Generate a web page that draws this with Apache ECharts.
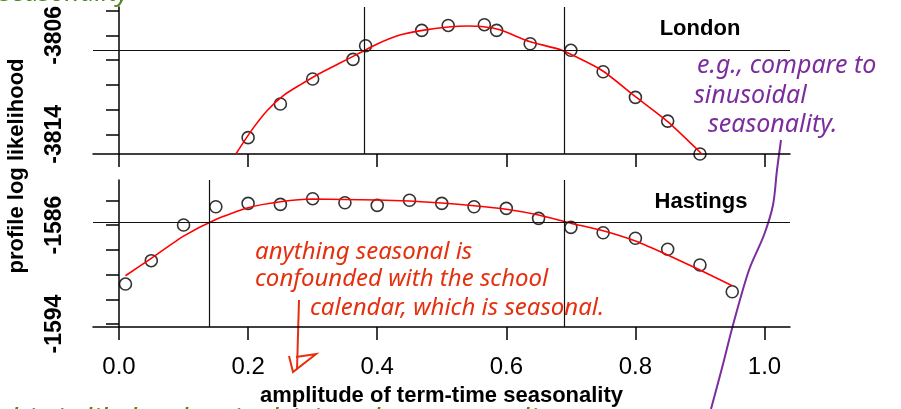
<!DOCTYPE html>
<html>
<head>
<meta charset="utf-8">
<script src="https://cdn.jsdelivr.net/npm/echarts@6/dist/echarts.min.js"></script>
<style>
  html, body { margin: 0; padding: 0; background: #fff; }
  #chart { width: 901px; height: 409px; }
</style>
</head>
<body>
<div id="chart"></div>
<script>
// x axis ticks (amplitude)
var xTicks = [0, 0.2, 0.4, 0.6, 0.8, 1.0];

// London profile
var londonAmp = [0.2, 0.25, 0.3, 0.3625, 0.382, 0.469, 0.51, 0.566, 0.585, 0.637, 0.70, 0.75, 0.80, 0.85, 0.90];
var londonLik = [-3814.27, -3811.55, -3809.53, -3807.94, -3806.84, -3805.60, -3805.20, -3805.14, -3805.60, -3806.68, -3807.21, -3808.94, -3811.01, -3812.93, -3815.59];
var londonFitAmp = [0.181, 0.205, 0.23, 0.255, 0.28, 0.31, 0.34, 0.37, 0.40, 0.435, 0.47, 0.51, 0.54, 0.565, 0.59, 0.637, 0.685, 0.749, 0.80, 0.85, 0.903];
var londonFit = [-3815.59, -3813.7, -3812.05, -3810.85, -3810.02, -3809.1, -3808.3, -3807.5, -3806.7, -3805.98, -3805.6, -3805.33, -3805.25, -3805.3, -3805.55, -3806.52, -3807.19, -3808.86, -3810.96, -3812.98, -3815.59];
var londonCut = -3807.21;
var londonCI = [0.381, 0.685];
var londonTicks = [-3814, -3812, -3810, -3808, -3806, -3804];
var londonLabels = [-3814, -3806];

// Hastings profile
var hastAmp = [0.01, 0.05, 0.1, 0.15, 0.2, 0.25, 0.3, 0.35, 0.4, 0.45, 0.5, 0.55, 0.6, 0.65, 0.7, 0.75, 0.8, 0.85, 0.9, 0.95];
var hastLik = [-1590.77, -1588.88, -1586.0, -1584.52, -1584.25, -1584.33, -1583.87, -1584.20, -1584.41, -1584.0, -1584.25, -1584.52, -1584.65, -1585.46, -1586.19, -1586.62, -1587.07, -1587.96, -1589.23, -1591.39];
var hastFitAmp = [0.01, 0.05, 0.1, 0.15, 0.2, 0.25, 0.3, 0.35, 0.4, 0.45, 0.5, 0.55, 0.6, 0.65, 0.7, 0.75, 0.8, 0.85, 0.9, 0.95];
var hastFit = [-1590.10, -1588.69, -1586.9, -1585.55, -1584.6, -1584.12, -1583.9, -1583.93, -1583.98, -1584.06, -1584.22, -1584.44, -1584.73, -1585.19, -1585.85, -1586.46, -1587.29, -1588.42, -1589.64, -1590.90];
var hastCut = -1585.78;
var hastCI = [0.1435, 0.6935];
var hastTicks = [-1594, -1592, -1590, -1588, -1586, -1584];
var hastLabels = [-1594, -1586];

function pairs(xs, ys) {
    return xs.map(function(x, i) { return [x, ys[i]]; });
}

var myChart = echarts.init(document.getElementById('chart'), null, { renderer: 'canvas' });

var font = 'Liberation Sans, Arial, sans-serif';
var hand = 'Noto Sans, sans-serif';

function xAxisFor(idx, withLabels) {
    return {
        type: 'value',
        gridIndex: idx,
        min: -0.0403,
        max: 1.0395,
        splitLine: { show: false },
        axisLine: { show: true, onZero: false, lineStyle: { color: '#000', width: 1.5 } },
        axisTick: { show: true, inside: false, length: 13, customValues: xTicks, lineStyle: { color: '#000', width: 1.5 } },
        axisLabel: {
            show: withLabels,
            customValues: xTicks,
            margin: 28,
            fontFamily: font,
            fontSize: 24,
            color: '#000',
            formatter: function(v) { return v.toFixed(1); }
        },
        name: withLabels ? 'amplitude of term-time seasonality' : '',
        nameLocation: 'middle',
        nameGap: 58,
        nameTextStyle: { fontFamily: font, fontWeight: 'bold', fontSize: 22, color: '#000' }
    };
}

function yAxisFor(idx, min, max, ticks, labels) {
    return {
        type: 'value',
        gridIndex: idx,
        min: min,
        max: max,
        splitLine: { show: false },
        axisLine: { show: true, lineStyle: { color: '#000', width: 1.5 } },
        axisTick: { show: true, length: 13, customValues: ticks, lineStyle: { color: '#000', width: 1.5 } },
        axisLabel: {
            customValues: labels,
            rotate: 90,
            margin: 27,
            fontFamily: font,
            fontWeight: 'bold',
            fontSize: 23,
            color: '#000',
            formatter: function(v) { return String(v); }
        }
    };
}

function refLines(cut, ci) {
    return {
        silent: true,
        symbol: 'none',
        label: { show: false },
        lineStyle: { color: '#111', width: 1.2, type: 'solid' },
        data: [{ yAxis: cut }, { xAxis: ci[0] }, { xAxis: ci[1] }]
    };
}

var option = {
    animation: false,
    backgroundColor: '#fff',
    grid: [
        { left: 93, right: 111, top: 7, height: 147 },
        { left: 93, right: 111, top: 180, height: 147 }
    ],
    xAxis: [xAxisFor(0, false), xAxisFor(1, true)],
    yAxis: [
        yAxisFor(0, -3815.59, -3803.71, londonTicks, londonLabels),
        yAxisFor(1, -1594.24, -1582.36, hastTicks, hastLabels)
    ],
    series: [
        {
            type: 'line', xAxisIndex: 0, yAxisIndex: 0,
            data: pairs(londonFitAmp, londonFit),
            smooth: 0.2, showSymbol: false, clip: true,
            lineStyle: { color: '#ff0000', width: 1.6 },
            markLine: refLines(londonCut, londonCI)
        },
        {
            type: 'scatter', xAxisIndex: 0, yAxisIndex: 0,
            data: pairs(londonAmp, londonLik),
            symbol: 'circle', symbolSize: 12, clip: true,
            itemStyle: { color: 'rgba(0,0,0,0)', borderColor: '#000', borderWidth: 1.6 }
        },
        {
            type: 'line', xAxisIndex: 1, yAxisIndex: 1,
            data: pairs(hastFitAmp, hastFit),
            smooth: 0.2, showSymbol: false, clip: true,
            lineStyle: { color: '#ff0000', width: 1.6 },
            markLine: refLines(hastCut, hastCI)
        },
        {
            type: 'scatter', xAxisIndex: 1, yAxisIndex: 1,
            data: pairs(hastAmp, hastLik),
            symbol: 'circle', symbolSize: 12, clip: true,
            itemStyle: { color: 'rgba(0,0,0,0)', borderColor: '#000', borderWidth: 1.6 }
        }
    ],
    graphic: [
        // panel titles
        { type: 'text', x: 700, y: 29, style: { text: 'London', font: 'bold 22px ' + font, fill: '#000', align: 'center', verticalAlign: 'middle' } },
        { type: 'text', x: 701, y: 202, style: { text: 'Hastings', font: 'bold 22px ' + font, fill: '#000', align: 'center', verticalAlign: 'middle' } },
        // y axis title
        { type: 'text', x: 17, y: 166, rotation: Math.PI / 2, style: { text: 'profile log likelihood', font: 'bold 22px ' + font, fill: '#000', align: 'center', verticalAlign: 'middle' } },

        // purple note and stroke
        { type: 'text', x: 697, y: 66, style: { text: 'e.g., compare to', font: 'italic 25px ' + hand, fill: '#7b2d9e', align: 'left', verticalAlign: 'middle' } },
        { type: 'text', x: 694, y: 96, style: { text: 'sinusoidal', font: 'italic 25px ' + hand, fill: '#7b2d9e', align: 'left', verticalAlign: 'middle' } },
        { type: 'text', x: 708, y: 125, style: { text: 'seasonality.', font: 'italic 25px ' + hand, fill: '#7b2d9e', align: 'left', verticalAlign: 'middle' } },
        { type: 'polyline', shape: { points: [[781, 140], [777, 170], [773, 205], [764, 235], [749, 270], [733, 325], [722, 368], [711, 409]], smooth: 0.3 }, style: { stroke: '#7b2d9e', lineWidth: 2, fill: null } },

        // red note and arrow
        { type: 'text', x: 255, y: 252, style: { text: 'anything seasonal is', font: 'italic 24px ' + hand, fill: '#e5300f', align: 'left', verticalAlign: 'middle' } },
        { type: 'text', x: 255, y: 279, style: { text: 'confounded with the school', font: 'italic 24px ' + hand, fill: '#e5300f', align: 'left', verticalAlign: 'middle' } },
        { type: 'text', x: 310, y: 308, style: { text: 'calendar, which is seasonal.', font: 'italic 24px ' + hand, fill: '#e5300f', align: 'left', verticalAlign: 'middle' } },
        { type: 'polyline', shape: { points: [[299, 300], [298, 335], [297, 370]] }, style: { stroke: '#e5300f', lineWidth: 2, fill: null } },
        { type: 'polyline', shape: { points: [[289, 356], [293, 372], [316, 354], [296, 357]] }, style: { stroke: '#e5300f', lineWidth: 2, fill: null } },

        // green notes, cut off at the edges
        { type: 'text', x: 0, y: -6, style: { text: 'seasonality', font: 'italic 26px ' + hand, fill: '#4d8a1d', align: 'left', verticalAlign: 'middle' } },
        { type: 'text', x: 0, y: 421, style: { text: 'this is likely what is driving the seasonality', font: 'italic 30px ' + hand, fill: '#4d8a1d', align: 'left', verticalAlign: 'middle' } }
    ]
};

myChart.setOption(option);
</script>
</body>
</html>
